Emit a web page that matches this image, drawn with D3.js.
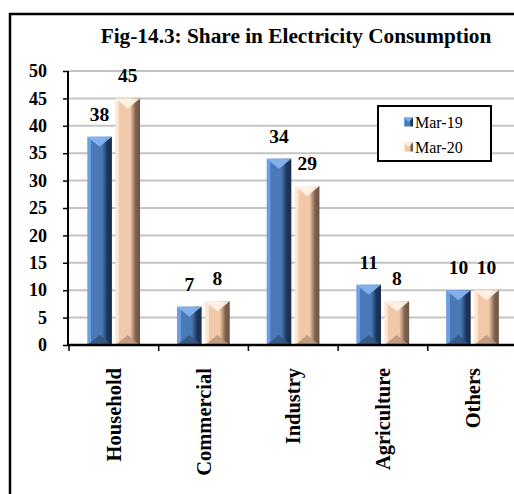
<!DOCTYPE html>
<html>
<head>
<meta charset="utf-8">
<script src="https://cdn.jsdelivr.net/npm/d3@7"></script>
<style>
  html, body { margin: 0; padding: 0; background: #fff; }
  svg { display: block; font-family: "Liberation Serif", "Times New Roman", serif; }
</style>
</head>
<body>
<svg id="chart" width="514" height="494"></svg>
<script>
// Share in electricity consumption (%) by sector
const categories = ["Household", "Commercial", "Industry", "Agriculture", "Others"];
const seriesNames = ["Mar-19", "Mar-20"];
const mar19 = [38, 7, 34, 11, 10];
const mar20 = [45, 8, 29, 8, 10];
const yTicks = [0, 5, 10, 15, 20, 25, 30, 35, 40, 45, 50];
const titleText = "Fig-14.3: Share in Electricity Consumption";

const svg = d3.select("#chart");
const W = 514, H = 494;

// outer frame
svg.append("rect")
  .attr("x", 10).attr("y", 14).attr("width", 530).attr("height", 500)
  .attr("fill", "#fff").attr("stroke", "#000").attr("stroke-width", 2.5);

// title
svg.append("text")
  .attr("x", 296).attr("y", 43)
  .attr("text-anchor", "middle")
  .attr("font-size", 21.3).attr("font-weight", "bold")
  .text(titleText);

const plot = { left: 68, right: 517.5, top: 71, bottom: 345 };

const y = d3.scaleLinear().domain([0, 50]).range([plot.bottom, plot.top]);
const x0 = d3.scaleBand().domain(categories).range([plot.left + 1, plot.right]).padding(0);
const bw0 = x0.bandwidth();
const x1 = d3.scaleBand().domain(seriesNames)
  .range([bw0 * 0.204, bw0 * 0.792]).paddingInner(0.125).paddingOuter(0);

// gridlines
svg.append("g")
  .selectAll("line")
  .data(yTicks.filter(t => t > 0))
  .join("line")
  .attr("x1", plot.left).attr("x2", W)
  .attr("y1", d => y(d)).attr("y2", d => y(d))
  .attr("stroke", "#c4c4c4").attr("stroke-width", 2);

// gradients for the bevelled bars
const defs = svg.append("defs");
const palettes = {
  "Mar-19": { light: "#6d9fe0", mid: "#4a79b8", dark: "#1c3559", top: "#86b5ef", bottom: "#34547e", edge: "#1a2f4f" },
  "Mar-20": { light: "#fde6d2", mid: "#f2c9a8", dark: "#7d6250", top: "#fff4e8", bottom: "#b8957c", edge: "#6e5444" }
};
seriesNames.forEach((s, i) => {
  const p = palettes[s];
  const g = defs.append("linearGradient").attr("id", "side" + i)
    .attr("x1", "0%").attr("x2", "100%").attr("y1", "0%").attr("y2", "0%");
  g.append("stop").attr("offset", "0%").attr("stop-color", p.light);
  g.append("stop").attr("offset", "14%").attr("stop-color", p.light);
  g.append("stop").attr("offset", "16%").attr("stop-color", p.mid);
  g.append("stop").attr("offset", "60%").attr("stop-color", p.mid);
  g.append("stop").attr("offset", "82%").attr("stop-color", p.dark);
  g.append("stop").attr("offset", "100%").attr("stop-color", p.edge);
});

const rows = categories.map((c, i) => ({ cat: c, vals: [mar19[i], mar20[i]] }));

const groups = svg.append("g").selectAll("g")
  .data(rows).join("g")
  .attr("transform", d => `translate(${x0(d.cat)},0)`);

groups.each(function (d) {
  const g = d3.select(this);
  d.vals.forEach((v, i) => {
    const s = seriesNames[i];
    const p = palettes[s];
    const bx = x1(s), w = x1.bandwidth();
    const top = y(v), bot = y(0);
    const h = bot - top;
    const dep = Math.min(10, h / 2);
    g.append("rect")
      .attr("x", bx).attr("y", top).attr("width", w).attr("height", h)
      .attr("fill", `url(#side${i})`);
    // top facet
    g.append("path")
      .attr("d", `M${bx},${top}L${bx + w},${top}L${bx + w / 2},${top + dep}Z`)
      .attr("fill", p.top).attr("opacity", 0.92);
    // bottom facet
    g.append("path")
      .attr("d", `M${bx},${bot}L${bx + w},${bot}L${bx + w / 2},${bot - dep}Z`)
      .attr("fill", p.bottom).attr("opacity", 0.85);
    // value label
    g.append("text")
      .attr("x", bx + w / 2).attr("y", top - 16)
      .attr("text-anchor", "middle")
      .attr("font-size", 19.5).attr("font-weight", "bold")
      .text(v);
  });
});

// y axis
const yAxis = svg.append("g")
  .attr("transform", `translate(${plot.left},0)`)
  .call(d3.axisLeft(y).tickValues(yTicks).tickSize(5).tickPadding(16));
yAxis.select(".domain").attr("stroke", "#000").attr("stroke-width", 2)
  .attr("d", `M0,${plot.top}V${plot.bottom}`);
yAxis.selectAll(".tick line").attr("stroke", "#000").attr("stroke-width", 1.5);
yAxis.selectAll(".tick text")
  .attr("font-family", "Liberation Serif, serif")
  .attr("font-size", 18).attr("font-weight", "bold").attr("fill", "#000");

// x axis with ticks at category boundaries
const xAxisG = svg.append("g").attr("transform", `translate(0,${plot.bottom})`);
xAxisG.append("line")
  .attr("x1", plot.left).attr("x2", W)
  .attr("stroke", "#000").attr("stroke-width", 2.5);
xAxisG.selectAll("line.tk")
  .data(categories)
  .join("line").attr("class", "tk")
  .attr("x1", d => x0(d)).attr("x2", d => x0(d))
  .attr("y1", 0).attr("y2", 6)
  .attr("stroke", "#000").attr("stroke-width", 1.5);

// rotated category labels
svg.append("g").selectAll("text")
  .data(categories).join("text")
  .attr("transform", d => `translate(${x0(d) + bw0 / 2 + 7},368) rotate(-90)`)
  .attr("text-anchor", "end")
  .attr("font-size", 20.5).attr("font-weight", "bold")
  .text(d => d);

// legend
const lg = svg.append("g").attr("transform", "translate(378,106)");
lg.append("rect").attr("width", 113).attr("height", 55)
  .attr("fill", "#fff").attr("stroke", "#000").attr("stroke-width", 2);
seriesNames.forEach((s, i) => {
  const p = palettes[s];
  const row = lg.append("g").attr("transform", `translate(26,${16 + i * 25})`);
  row.append("rect").attr("x", 0).attr("y", -4.5).attr("width", 9).attr("height", 9)
    .attr("fill", `url(#side${i})`);
  row.append("path").attr("d", "M0,-4.5L9,-4.5L4.5,0Z").attr("fill", p.top).attr("opacity", 0.9);
  row.append("text").attr("x", 11).attr("y", 5.5)
    .attr("font-size", 16).text(s);
});
</script>
</body>
</html>
